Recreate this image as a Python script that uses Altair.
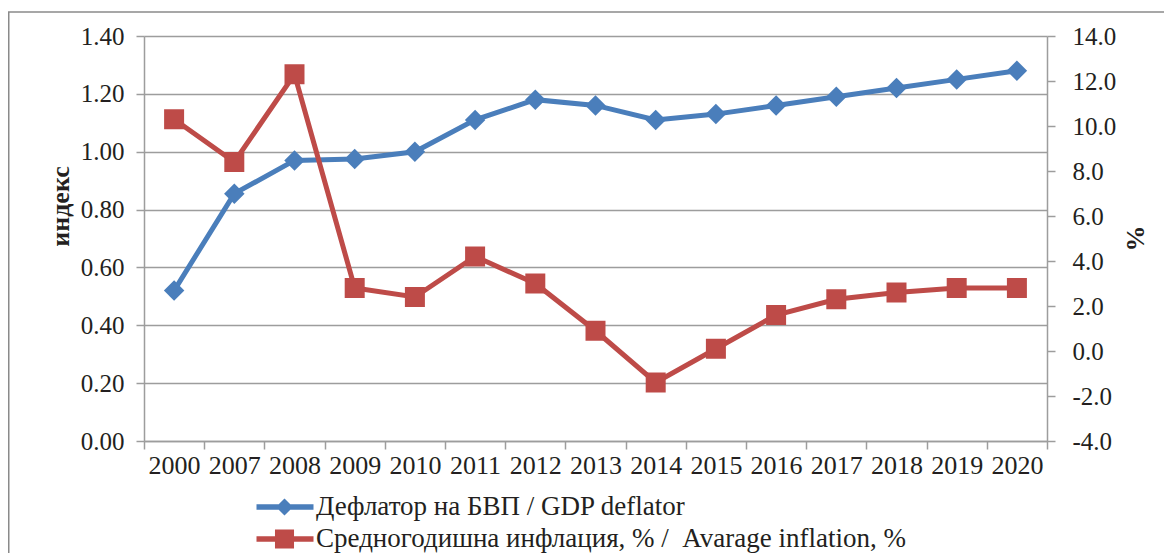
import altair as alt
import pandas as pd

years = ["2000", "2007", "2008", "2009", "2010", "2011", "2012", "2013",
         "2014", "2015", "2016", "2017", "2018", "2019", "2020"]
deflator = [0.52, 0.855, 0.97, 0.975, 1.00, 1.11, 1.18, 1.16, 1.11, 1.13,
            1.16, 1.19, 1.22, 1.25, 1.28]
inflation = [10.3, 8.4, 12.3, 2.8, 2.4, 4.2, 3.0, 0.9, -1.4, 0.1, 1.6, 2.3,
             2.6, 2.8, 2.8]
series_names = ["Дефлатор на БВП / GDP deflator",
                "Средногодишна инфлация, % /\u00a0 Avarage inflation, %"]
left_ticks = [0.0, 0.2, 0.4, 0.6, 0.8, 1.0, 1.2, 1.4]
right_ticks = [-4, -2, 0, 2, 4, 6, 8, 10, 12, 14]

BLUE = "#4A7EBB"
RED = "#BE4B48"
GRID = "#9d9d9d"
TXT = "#231f20"
FONT = "Liberation Serif"

# legend symbols: line with marker (custom paths)
PATH_BLUE = ("M-1,-0.34L1.7775,-0.34L2.5,-1.0625L3.2225,-0.34L6.125,-0.34"
             "L6.125,0.34L3.2225,0.34L2.5,1.0625L1.7775,0.34L-1,0.34Z")
PATH_RED = ("M-1,-0.34L1.31,-0.34L1.31,-1.19L3.69,-1.19L3.69,-0.34"
            "L6.125,-0.34L6.125,0.34L3.69,0.34L3.69,1.19L1.31,1.19"
            "L1.31,0.34L-1,0.34Z")

df = pd.DataFrame({"year": years, "deflator": deflator, "inflation": inflation})
leg_df = pd.DataFrame({"series": series_names})
frame_df = pd.DataFrame({"a": [0]})

x_enc = alt.X(
    "year:O", sort=years,
    scale=alt.Scale(type="band", paddingInner=0, paddingOuter=0),
    axis=alt.Axis(title=None, labelAngle=0, labelFont=FONT, labelFontSize=26,
                  labelColor=TXT, tickBand="extent", tickSize=8, tickColor=GRID,
                  tickWidth=1.5, domainColor=GRID, domainWidth=1.5,
                  labelPadding=3, grid=False),
)

y_left = alt.Y(
    "deflator:Q",
    scale=alt.Scale(domain=[0, 1.4], nice=False, zero=False),
    axis=alt.Axis(values=left_ticks, format=".2f", title="индекс",
                  titleFont=FONT, titleFontSize=26, titleFontWeight="bold",
                  titleColor=TXT, titleAngle=270, titleX=-84, titleY=170,
                  titleAlign="center", titleBaseline="middle",
                  labelFont=FONT, labelFontSize=25, labelColor=TXT,
                  grid=True, gridColor=GRID, gridWidth=1.5,
                  tickSize=8, tickColor=GRID, tickWidth=1.5,
                  domainColor=GRID, domainWidth=1.5, labelPadding=12),
)

y_right = alt.Y(
    "inflation:Q",
    scale=alt.Scale(domain=[-4, 14], nice=False, zero=False),
    axis=alt.Axis(values=right_ticks, orient="right",
                  labelExpr="datum.value < 0 ? '-' + format(-datum.value, '.1f') : format(datum.value, '.1f')",
                  title="%", titleFont=FONT, titleFontSize=26,
                  titleFontWeight="bold", titleColor=TXT, titleAngle=270,
                  titleX=88, titleY=202, titleAlign="center",
                  titleBaseline="middle",
                  labelFont=FONT, labelFontSize=25, labelColor=TXT,
                  grid=False, tickSize=8, tickColor=GRID, tickWidth=1.5,
                  domainColor=GRID, domainWidth=1.5, labelPadding=17),
)

base = alt.Chart(df)
left = alt.layer(
    base.mark_line(color=BLUE, strokeWidth=5).encode(x=x_enc, y=y_left),
    base.mark_point(shape="diamond", filled=True, size=420, opacity=1,
                    color=BLUE).encode(x=x_enc, y=y_left),
)
right = alt.layer(
    base.mark_line(color=RED, strokeWidth=5).encode(x=x_enc, y=y_right),
    base.mark_point(shape="square", filled=True, size=400, opacity=1,
                    color=RED).encode(x=x_enc, y=y_right),
)

legend_cfg = dict(title=None, orient="none", legendX=107, legendY=457.5,
                  direction="vertical", symbolSize=256, symbolStrokeWidth=0,
                  symbolOpacity=1, labelFont=FONT, labelFontSize=27,
                  labelColor=TXT, labelOffset=38, rowPadding=4, padding=0,
                  labelLimit=800)

legend_layer = alt.Chart(leg_df).mark_point(filled=True, clip=True,
                                            opacity=1).encode(
    x=alt.value(0), y=alt.value(-2000),
    color=alt.Color("series:N",
                    scale=alt.Scale(domain=series_names, range=[BLUE, RED]),
                    legend=alt.Legend(**legend_cfg)),
    shape=alt.Shape("series:N",
                    scale=alt.Scale(domain=series_names,
                                    range=[PATH_BLUE, PATH_RED]),
                    legend=alt.Legend(**legend_cfg)),
)

frame = alt.Chart(frame_df).mark_rect(filled=False, stroke="#8a8a8a",
                                      strokeWidth=1.5).encode(
    x=alt.value(-135.25), y=alt.value(-24),
    x2=alt.value(1100), y2=alt.value(700),
)

chart = alt.layer(frame, left, right, legend_layer).resolve_scale(
    y="independent"
).properties(
    width=903, height=405,
    autosize=alt.AutoSizeParams(type="none"),
    padding={"left": 136, "top": 28, "right": 117, "bottom": 112},
).configure_view(stroke=None)

chart.save("out.html", embed_options={"renderer": "svg", "actions": False})
